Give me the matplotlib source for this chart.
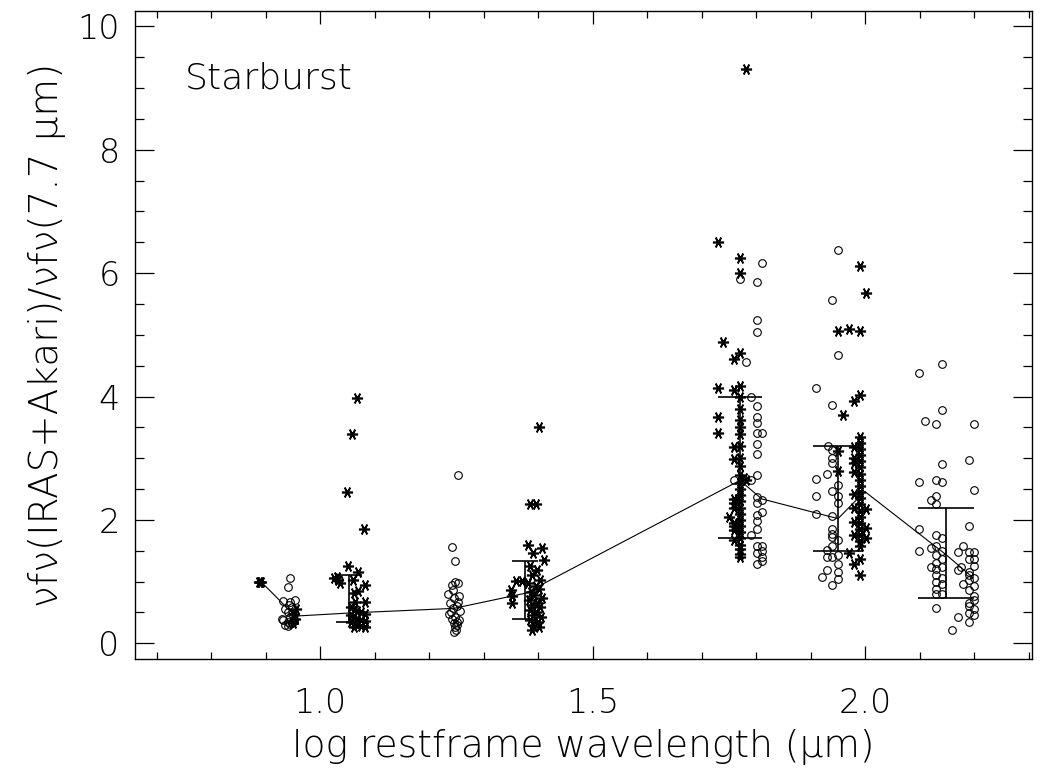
import matplotlib
matplotlib.use("Agg")
import matplotlib.pyplot as plt
from matplotlib.ticker import MultipleLocator

plt.rcParams['font.family'] = ['DejaVu Sans']
plt.rcParams['font.weight'] = 'light'

# ---------------- data ----------------
# 7.7 um reference (asterisks)
ref_x = [0.888, 0.890, 0.892]
ref_y = [1.00, 1.00, 1.00]

# Akari 9 um (circles)
ak9_x = [0.945, 0.940, 0.932, 0.945, 0.954, 0.935, 0.940, 0.948, 0.945, 0.952,
         0.932, 0.940, 0.948, 0.935, 0.945, 0.952, 0.940, 0.929, 0.948, 0.942]
ak9_y = [1.05, 0.91, 0.69, 0.67, 0.70, 0.55, 0.50, 0.47, 0.43, 0.40,
         0.37, 0.35, 0.33, 0.30, 0.31, 0.36, 0.28, 0.40, 0.58, 0.62]
# asterisks overlapping the 9 um cluster
ak9s_x = [0.950, 0.954, 0.951, 0.956]
ak9s_y = [0.32, 0.40, 0.48, 0.55]

# IRAS 12 um (asterisks)
ir12_x = [1.067, 1.058, 1.049, 1.080, 1.050, 1.070, 1.026, 1.032, 1.036, 1.030,
          1.082, 1.060, 1.070, 1.061, 1.082, 1.064,
          1.056, 1.062, 1.068, 1.075, 1.082, 1.056, 1.062, 1.068, 1.075, 1.082,
          1.056, 1.062, 1.068, 1.075, 1.082, 1.062]
ir12_y = [3.97, 3.39, 2.45, 1.85, 1.25, 1.16, 1.05, 1.02, 0.98, 1.07,
          0.94, 1.03, 0.84, 0.81, 0.67, 0.67,
          0.59, 0.55, 0.52, 0.50, 0.48, 0.45, 0.43, 0.40, 0.38, 0.36,
          0.34, 0.32, 0.30, 0.28, 0.27, 0.26]

# Akari 18 um (circles)
ak18_x = [1.253, 1.242, 1.248, 1.247, 1.253, 1.241, 1.244, 1.235, 1.255,
          1.246, 1.252, 1.238, 1.250, 1.244, 1.256, 1.240, 1.236, 1.248, 1.242,
          1.254, 1.250, 1.245, 1.251, 1.247, 1.249, 1.246]
ak18_y = [2.73, 1.56, 1.33, 0.99, 0.97, 0.94, 0.86, 0.80, 0.76,
          0.73, 0.67, 0.65, 0.60, 0.57, 0.53, 0.50, 0.47, 0.43, 0.40,
          0.38, 0.35, 0.32, 0.29, 0.26, 0.22, 0.19]

# IRAS 25 um (asterisks)
ir25_x = [1.401, 1.385, 1.396, 1.352, 1.350, 1.352, 1.359, 1.370,
          1.381, 1.407, 1.390, 1.410, 1.385, 1.398, 1.388, 1.404, 1.381, 1.395,
          1.401, 1.386, 1.392, 1.407, 1.383, 1.398, 1.389, 1.403, 1.385, 1.396,
          1.391, 1.405, 1.384, 1.399, 1.390, 1.402, 1.388]
ir25_y = [3.51, 2.26, 2.26, 0.76, 0.86, 0.65, 1.01, 1.01,
          1.59, 1.55, 1.47, 1.35, 1.25, 1.18, 1.10, 1.02, 0.97, 0.92,
          0.88, 0.83, 0.78, 0.74, 0.70, 0.66, 0.62, 0.58, 0.54, 0.50,
          0.46, 0.42, 0.38, 0.34, 0.30, 0.26, 0.22]

# IRAS 60 um (asterisks)
ir60_x = [1.781, 1.730, 1.770, 1.770, 1.739, 1.770, 1.760, 1.730, 1.760, 1.770,
          1.730, 1.730,
          1.770, 1.770, 1.770, 1.770, 1.770, 1.770, 1.770, 1.770, 1.770, 1.770,
          1.770, 1.770, 1.770, 1.770, 1.770, 1.770, 1.770, 1.770, 1.770, 1.770,
          1.770, 1.770, 1.770,
          1.760, 1.760, 1.760, 1.760, 1.760, 1.760, 1.760, 1.760, 1.760,
          1.750, 1.781, 1.778]
ir60_y = [9.31, 6.51, 6.24, 6.00, 4.88, 4.70, 4.60, 4.13, 4.11, 4.17,
          3.66, 3.41,
          3.99, 3.80, 3.62, 3.50, 3.40, 3.20, 3.00, 2.88, 2.72, 2.60,
          2.50, 2.40, 2.30, 2.20, 2.10, 2.00, 1.90, 1.80, 1.70, 1.60,
          1.52, 1.45, 1.40,
          3.18, 2.98, 2.34, 2.27, 1.90, 1.83, 1.67, 1.95, 2.20,
          2.05, 2.65, 2.68]

# Akari 65 um (circles)
ak65_x = [1.810, 1.770, 1.801, 1.801, 1.801, 1.781, 1.790, 1.801, 1.801, 1.801,
          1.801, 1.810, 1.801, 1.801, 1.801, 1.760, 1.790, 1.801, 1.810, 1.801,
          1.810, 1.801, 1.801, 1.801, 1.790, 1.801, 1.810, 1.801, 1.810, 1.801,
          1.810, 1.810]
ak65_y = [6.16, 5.91, 5.85, 5.24, 5.05, 4.56, 4.00, 3.85, 3.66, 3.57,
          3.41, 3.41, 3.23, 3.06, 2.73, 2.64, 2.65, 2.37, 2.33, 2.27,
          2.12, 2.08, 1.98, 1.85, 1.75, 1.57, 1.57, 1.47, 1.40, 1.28,
          1.33, 1.49]

# Akari 90 um (circles)
ak90_x = [1.950, 1.939, 1.950, 1.910, 1.939, 1.931, 1.939, 1.939, 1.939, 1.910,
          1.930, 1.910, 1.939, 1.950, 1.950, 1.950, 1.910, 1.939, 1.939, 1.939,
          1.939, 1.950, 1.939, 1.930, 1.950, 1.930, 1.939, 1.950, 1.950, 1.930,
          1.921, 1.950, 1.939]
ak90_y = [6.38, 5.56, 4.68, 4.13, 3.86, 3.20, 3.13, 3.01, 2.92, 2.66,
          2.74, 2.39, 2.47, 2.57, 2.39, 2.28, 2.10, 2.07, 1.85, 1.77,
          1.72, 1.67, 1.57, 1.51, 1.43, 1.40, 1.40, 1.28, 1.16, 1.18,
          1.08, 1.04, 0.94]

# IRAS 100 um (asterisks)
ir100_x = [1.990, 2.001, 1.950, 1.971, 1.990, 1.990, 1.980, 1.960, 1.990,
           1.990, 1.990, 1.990, 1.990, 1.990, 1.990, 1.990, 1.990, 1.990,
           1.990, 1.990, 1.990, 1.990, 1.990, 1.990, 1.990, 1.990, 1.990,
           1.980, 1.980, 1.980, 1.980, 1.980, 1.980, 1.980, 1.980,
           2.001, 2.001, 2.001, 1.950, 1.950, 1.971, 1.990, 1.980, 1.990]
ir100_y = [6.11, 5.68, 5.07, 5.09, 5.07, 4.02, 3.92, 3.70, 3.35,
           3.25, 3.15, 3.05, 2.95, 2.85, 2.75, 2.65, 2.55, 2.45,
           2.35, 2.25, 2.15, 2.05, 1.95, 1.85, 1.75, 1.65, 1.57,
           3.18, 3.00, 2.93, 2.78, 2.42, 2.20, 1.97, 1.75,
           2.17, 1.87, 1.70, 2.80, 3.11, 1.47, 1.36, 1.28, 1.11]

# Akari 140 um (circles)
ak140_x = [2.099, 2.140, 2.110, 2.130, 2.140, 2.140, 2.099, 2.130, 2.140, 2.120,
           2.130, 2.130, 2.099, 2.120, 2.130, 2.140, 2.130, 2.130, 2.140, 2.130,
           2.140, 2.130, 2.130, 2.140, 2.140, 2.130, 2.099, 2.120, 2.130, 2.140,
           2.130, 2.140, 2.130]
ak140_y = [4.38, 4.52, 3.60, 3.56, 3.78, 2.91, 2.62, 2.65, 2.61, 2.32,
           2.39, 2.26, 1.85, 1.55, 1.75, 1.70, 1.57, 1.43, 1.36, 1.20,
           1.24, 1.10, 0.99, 0.96, 0.79, 0.79, 1.50, 1.24, 0.57, 1.50,
           1.30, 1.05, 0.88]

# Akari 160 um (circles)
ak160_x = [2.199, 2.190, 2.199, 2.190, 2.170, 2.170, 2.175, 2.179, 2.190, 2.199,
           2.190, 2.199, 2.199, 2.190, 2.179, 2.190, 2.199, 2.190, 2.199, 2.190,
           2.199, 2.170, 2.160, 2.190, 2.199, 2.190, 2.199, 2.190, 2.199, 2.190]
ak160_y = [3.55, 2.97, 2.49, 1.90, 1.48, 1.18, 1.23, 1.58, 1.48, 1.48,
           1.36, 1.36, 1.26, 1.16, 0.96, 0.86, 0.76, 0.66, 0.56, 0.49,
           0.46, 0.42, 0.22, 0.34, 1.05, 1.02, 0.92, 0.60, 0.70, 1.10]

# median line
med_x = [0.891, 0.954, 1.054, 1.245, 1.376, 1.770, 1.810, 1.950, 1.999, 2.149, 2.198]
med_y = [1.00, 0.44, 0.49, 0.565, 0.81, 2.64, 2.34, 2.02, 2.46, 1.43, 1.06]

# range brackets
br_x = [1.053, 1.376, 1.770, 1.950, 2.149]
br_lo = [0.35, 0.39, 1.70, 1.50, 0.74]
br_hi = [1.11, 1.34, 4.00, 3.20, 2.19]
br_cap = [9.4, 9.4, 15.8, 18.0, 20.2]   # cap half-length in points

xticks = [1.0, 1.5, 2.0]
xticklabels = ['1.0', '1.5', '2.0']
yticks = [0, 2, 4, 6, 8, 10]

# ---------------- plot ----------------
fig = plt.figure(figsize=(10.41, 7.69), dpi=100)
ax = fig.add_axes([0.1297, 0.1427, 0.8617, 0.8430])

star = (6, 2, 90)
star_kw = dict(linestyle='none', marker=star, markersize=8, markeredgewidth=1.2,
               color='black')
circ_kw = dict(linestyle='none', marker='o', markersize=5.5, markeredgewidth=0.8,
               markerfacecolor='none', markeredgecolor='black')

ax.plot(ak9_x, ak9_y, **circ_kw)
ax.plot(ak18_x, ak18_y, **circ_kw)
ax.plot(ak65_x, ak65_y, **circ_kw)
ax.plot(ak90_x, ak90_y, **circ_kw)
ax.plot(ak140_x, ak140_y, **circ_kw)
ax.plot(ak160_x, ak160_y, **circ_kw)

ax.plot(ref_x, ref_y, **star_kw)
ax.plot(ak9s_x, ak9s_y, **star_kw)
ax.plot(ir12_x, ir12_y, **star_kw)
ax.plot(ir25_x, ir25_y, **star_kw)
ax.plot(ir60_x, ir60_y, **star_kw)
ax.plot(ir100_x, ir100_y, **star_kw)

ax.plot(med_x, med_y, color='black', lw=0.8)

for bx, lo, hi, cs in zip(br_x, br_lo, br_hi, br_cap):
    mid = 0.5 * (lo + hi)
    ax.errorbar([bx], [mid], yerr=[[mid - lo], [hi - mid]], fmt='none',
                ecolor='black', elinewidth=1.2, capsize=cs, capthick=1.2)

ax.set_xlim(0.660, 2.306)
ax.set_ylim(-0.26, 10.25)
ax.set_xticks(xticks)
ax.set_xticklabels(xticklabels)
ax.xaxis.set_minor_locator(MultipleLocator(0.1))
ax.set_yticks(yticks)
ax.yaxis.set_minor_locator(MultipleLocator(0.5))

ax.tick_params(axis='both', which='both', direction='in', top=True, right=True,
               width=0.9, colors='black', labelsize=24)
ax.tick_params(axis='x', which='major', length=9.5, pad=20)
ax.tick_params(axis='x', which='minor', length=4.7)
ax.tick_params(axis='y', which='major', length=13.5, pad=11)
ax.tick_params(axis='y', which='minor', length=6.5)
for s in ax.spines.values():
    s.set_linewidth(1.0)

ax.set_xlabel('log restframe wavelength (μm)', fontsize=27, fontweight='light')
ax.xaxis.set_label_coords(0.5, -0.108)
ax.set_ylabel('νfν(IRAS+Akari)/νfν(7.7 μm)', fontsize=28, fontweight='light')
ax.yaxis.set_label_coords(-0.077, 0.5)

ax.text(0.752, 9.0, 'Starburst', fontsize=26, ha='left', va='baseline',
        fontweight='light')

fig.savefig('out.png', dpi=100)
